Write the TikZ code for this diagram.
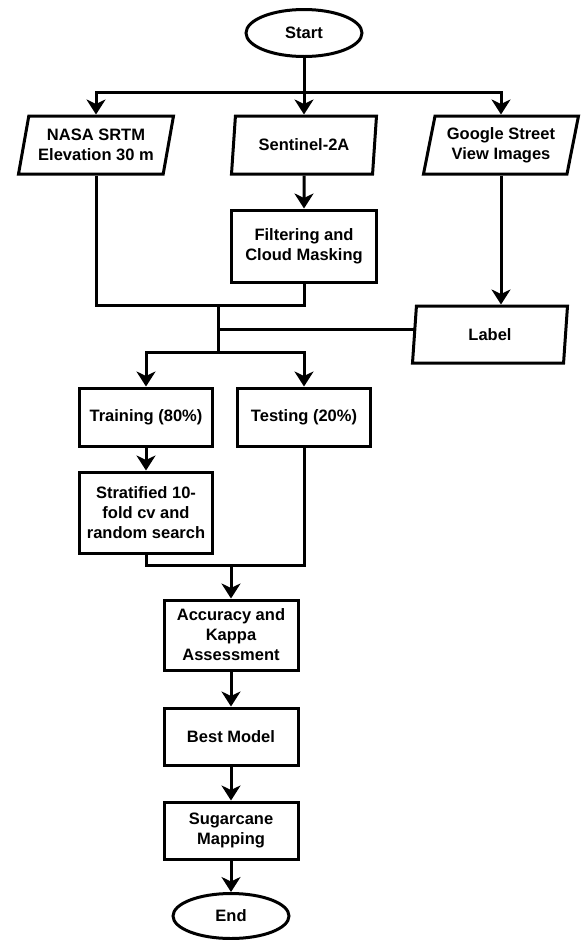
\documentclass[tikz,border=0pt]{standalone}
\usepackage{fontspec}
\setmainfont{Liberation Sans}
\usetikzlibrary{shapes.geometric,arrows.meta,backgrounds}
\begin{document}
\begin{tikzpicture}[x=1pt,y=-1pt,
  base/.style={font=\fontsize{16.5}{20}\selectfont\bfseries, line width=3pt, draw=black, fill=white, align=center, inner sep=0pt},
  procbox/.style={base, rectangle},
  iobox/.style={base, trapezium, trapezium left angle=72, trapezium right angle=108, trapezium stretches body},
  termbox/.style={base, ellipse},
  ln/.style={line width=3pt},
  arr/.style={line width=3pt, -{Stealth[length=15pt,width=19pt,inset=4.5pt]}}]
\useasboundingbox (0,0) rectangle (581,940);

\node[termbox, minimum width=116pt, minimum height=47pt] (start) at (304,33) {Start};
\node[iobox, minimum width=155pt, minimum height=58pt] (nasa) at (96,145) {NASA SRTM\\Elevation 30 m};
\node[iobox, minimum width=145pt, minimum height=58pt] (sent) at (304,145) {Sentinel-2A};
\node[iobox, minimum width=155pt, minimum height=58pt] (google) at (501,145) {Google Street\\View Images};
\node[procbox, minimum width=145pt, minimum height=72pt] (filter) at (304,246) {Filtering and\\Cloud Masking};
\node[iobox, minimum width=155pt, minimum height=57pt] (label) at (490,334.5) {Label};
\node[procbox, minimum width=133pt, minimum height=58pt] (train) at (146,417) {Training (80\%)};
\node[procbox, minimum width=133pt, minimum height=58pt] (test) at (304,417) {Testing (20\%)};
\node[procbox, minimum width=133pt, minimum height=81pt] (strat) at (146,512.5) {Stratified 10-\\fold cv and\\random search};
\node[procbox, minimum width=134pt, minimum height=70pt] (acc) at (231,635) {Accuracy and\\Kappa\\Assessment};
\node[procbox, minimum width=134pt, minimum height=57pt] (best) at (231,736.5) {Best Model};
\node[procbox, minimum width=134pt, minimum height=57pt] (sugar) at (231,830.5) {Sugarcane\\Mapping};
\node[termbox, minimum width=116pt, minimum height=45pt] (endn) at (231,916) {End};

\coordinate (b1) at (304,92);
\coordinate (m1) at (218,305);
\coordinate (m3) at (218,329);
\coordinate (m2) at (218,352);
\coordinate (m4) at (231,565);

\draw[ln] (start) -- (b1);
\draw[arr] (b1) -| (nasa.north);
\draw[arr] (b1) -- (sent);
\draw[arr] (b1) -| (google.north);
\draw[arr] (sent) -- (filter);
\draw[arr] (google.south) -- (google.south |- label.north);
\draw[ln] (nasa.south) |- (m1) -| (filter.south);
\draw[ln] (m1) -- (m2);
\begin{scope}[on background layer]
\draw[ln] (m3) -- (m3 -| label.center);
\end{scope}
\draw[arr] (m2) -| (train.north);
\draw[arr] (m2) -| (test.north);
\draw[arr] (train) -- (strat);
\draw[ln] (strat.south) |- (m4) -| (test.south);
\draw[arr] (m4) -- (acc);
\draw[arr] (acc) -- (best);
\draw[arr] (best) -- (sugar);
\draw[arr] (sugar) -- (endn);
\end{tikzpicture}
\end{document}
